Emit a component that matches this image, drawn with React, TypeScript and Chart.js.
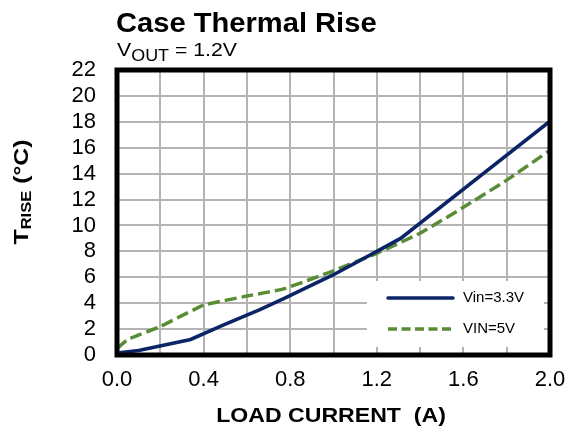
import React, { useEffect, useRef } from "react";
import { Chart, registerables } from "chart.js";

Chart.register(...registerables);

const titleText = "Case Thermal Rise";
const subtitleMain = "V";
const subtitleSub = "OUT";
const subtitleRest = " = 1.2V";
const xTitle = "LOAD CURRENT  (A)";
const yTitleMain = "T";
const yTitleSub = "RISE";
const yTitleRest = " (°C)";

const seriesNames = ["Vin=3.3V", "VIN=5V"];

const current33 = [0, 0.1, 0.34, 0.49, 0.66, 0.77, 1.0, 1.2, 1.31, 2.0];
const temp33 = [0.15, 0.35, 1.2, 2.3, 3.5, 4.35, 6.2, 8.0, 9.0, 18.05];

const current5 = [0, 0.05, 0.2, 0.4, 0.6, 0.77, 1.0, 1.2, 1.4, 1.6, 1.8, 2.0];
const temp5 = [0.5, 1.2, 2.2, 3.85, 4.55, 5.1, 6.5, 7.85, 9.4, 11.4, 13.5, 15.8];

const xMin = 0;
const xMax = 2;
const xStep = 0.2;
const yMin = 0;
const yMax = 22;
const yStep = 2;

const BLUE = "#0b2466";
const GREEN = "#5a8c35";
const FONT = "'Liberation Sans', Arial, sans-serif";

export default function App() {
  const ref = useRef<HTMLCanvasElement | null>(null);

  useEffect(() => {
    if (!ref.current) return;

    const decor = {
      id: "decor",
      beforeDatasetsDraw(chart: any) {
        const { ctx } = chart;
        ctx.save();
        const bx = 367, by = 281, bw = 177, bh = 66;
        ctx.fillStyle = "#ffffff";
        ctx.fillRect(bx, by, bw, bh);
        ctx.lineWidth = 3.5;
        ctx.strokeStyle = BLUE;
        ctx.lineCap = "round";
        ctx.beginPath();
        ctx.moveTo(388, 298);
        ctx.lineTo(453, 298);
        ctx.stroke();
        ctx.strokeStyle = GREEN;
        ctx.setLineDash([9, 4.5]);
        ctx.lineCap = "butt";
        ctx.beginPath();
        ctx.moveTo(388, 329);
        ctx.lineTo(453, 329);
        ctx.stroke();
        ctx.setLineDash([]);
        ctx.fillStyle = "#000";
        ctx.font = `15px ${FONT}`;
        ctx.textBaseline = "middle";
        ctx.textAlign = "left";
        ctx.fillText(seriesNames[0], 463, 298);
        ctx.fillText(seriesNames[1], 463, 329);
        ctx.restore();
      },
      afterDatasetsDraw(chart: any) {
        const { ctx, chartArea } = chart;
        ctx.save();
        ctx.lineWidth = 5;
        ctx.strokeStyle = "#000";
        ctx.strokeRect(chartArea.left, chartArea.top, chartArea.right - chartArea.left, chartArea.bottom - chartArea.top);
        ctx.restore();
      },
      afterDraw(chart: any) {
        const { ctx } = chart;
        ctx.save();
        ctx.fillStyle = "#000";
        ctx.textBaseline = "alphabetic";
        ctx.textAlign = "left";
        ctx.save();
        ctx.translate(116, 32);
        ctx.scale(1.04, 1);
        ctx.font = `bold 28px ${FONT}`;
        ctx.fillText(titleText, 0, 0);
        ctx.restore();
        ctx.save();
        ctx.translate(117, 56);
        ctx.scale(1.12, 1);
        let x = 0;
        ctx.font = `19px ${FONT}`;
        ctx.fillText(subtitleMain, x, 0);
        x += ctx.measureText(subtitleMain).width;
        ctx.font = `16px ${FONT}`;
        ctx.fillText(subtitleSub, x, 5);
        x += ctx.measureText(subtitleSub).width;
        ctx.font = `19px ${FONT}`;
        ctx.fillText(subtitleRest, x, 0);
        ctx.restore();
        ctx.save();
        ctx.translate(331, 422);
        ctx.scale(1.1, 1);
        ctx.font = `bold 21px ${FONT}`;
        ctx.textAlign = "center";
        ctx.fillText(xTitle, 0, 0);
        ctx.restore();
        ctx.translate(28, 192);
        ctx.rotate(-Math.PI / 2);
        ctx.scale(1.18, 1);
        ctx.textAlign = "left";
        ctx.font = `bold 21px ${FONT}`;
        const w1 = ctx.measureText(yTitleMain).width;
        const w3 = ctx.measureText(yTitleRest).width;
        ctx.font = `bold 14px ${FONT}`;
        const w2 = ctx.measureText(yTitleSub).width;
        let sx = -(w1 + w2 + w3) / 2;
        ctx.font = `bold 21px ${FONT}`;
        ctx.fillText(yTitleMain, sx, 0);
        sx += w1;
        ctx.font = `bold 14px ${FONT}`;
        ctx.fillText(yTitleSub, sx, 3);
        sx += w2;
        ctx.font = `bold 21px ${FONT}`;
        ctx.fillText(yTitleRest, sx, 0);
        ctx.restore();
      },
    };

    const chart = new Chart(ref.current, {
      type: "line",
      data: {
        datasets: [
          {
            label: seriesNames[0],
            data: current33.map((x, i) => ({ x, y: temp33[i] })),
            borderColor: BLUE,
            borderWidth: 3.5,
            pointRadius: 0,
            tension: 0,
            fill: false,
          },
          {
            label: seriesNames[1],
            data: current5.map((x, i) => ({ x, y: temp5[i] })),
            borderColor: GREEN,
            borderWidth: 3.5,
            borderDash: [12, 5],
            pointRadius: 0,
            tension: 0.1,
            fill: false,
          },
        ],
      },
      options: {
        responsive: false,
        animation: false,
        layout: { padding: { top: 70, right: 20, left: 0, bottom: 0 } },
        plugins: {
          legend: { display: false },
          tooltip: { enabled: false },
          title: { display: false },
        },
        scales: {
          x: {
            type: "linear",
            min: xMin,
            max: xMax,
            border: { display: false },
            grid: { color: "#b4b4b4", lineWidth: 2, drawTicks: false },
            ticks: {
              stepSize: xStep,
              autoSkip: false,
              maxRotation: 0,
              padding: 12,
              color: "#000",
              font: { family: FONT, size: 22 },
              callback: (v: any) => {
                const n = Math.round(Number(v) * 10);
                return n % 4 === 0 ? (n / 10).toFixed(1) : "";
              },
            },
            afterFit: (s: any) => {
              s.height = 78;
              s.paddingLeft = 0;
              s.paddingRight = 0;
            },
          },
          y: {
            type: "linear",
            min: yMin,
            max: yMax,
            border: { display: false },
            grid: { color: "#b4b4b4", lineWidth: 2, drawTicks: false },
            ticks: {
              stepSize: yStep,
              autoSkip: false,
              padding: 21,
              color: "#000",
              font: { family: FONT, size: 22 },
            },
            afterFit: (s: any) => {
              s.width = 117;
              s.paddingTop = 0;
              s.paddingBottom = 0;
            },
          },
        },
      },
      plugins: [decor],
    });

    return () => chart.destroy();
  }, []);

  return (
    <div style={{ position: "absolute", left: 0, top: 0, width: 570, height: 433, background: "#fff" }}>
      <canvas ref={ref} width={570} height={433} />
    </div>
  );
}
